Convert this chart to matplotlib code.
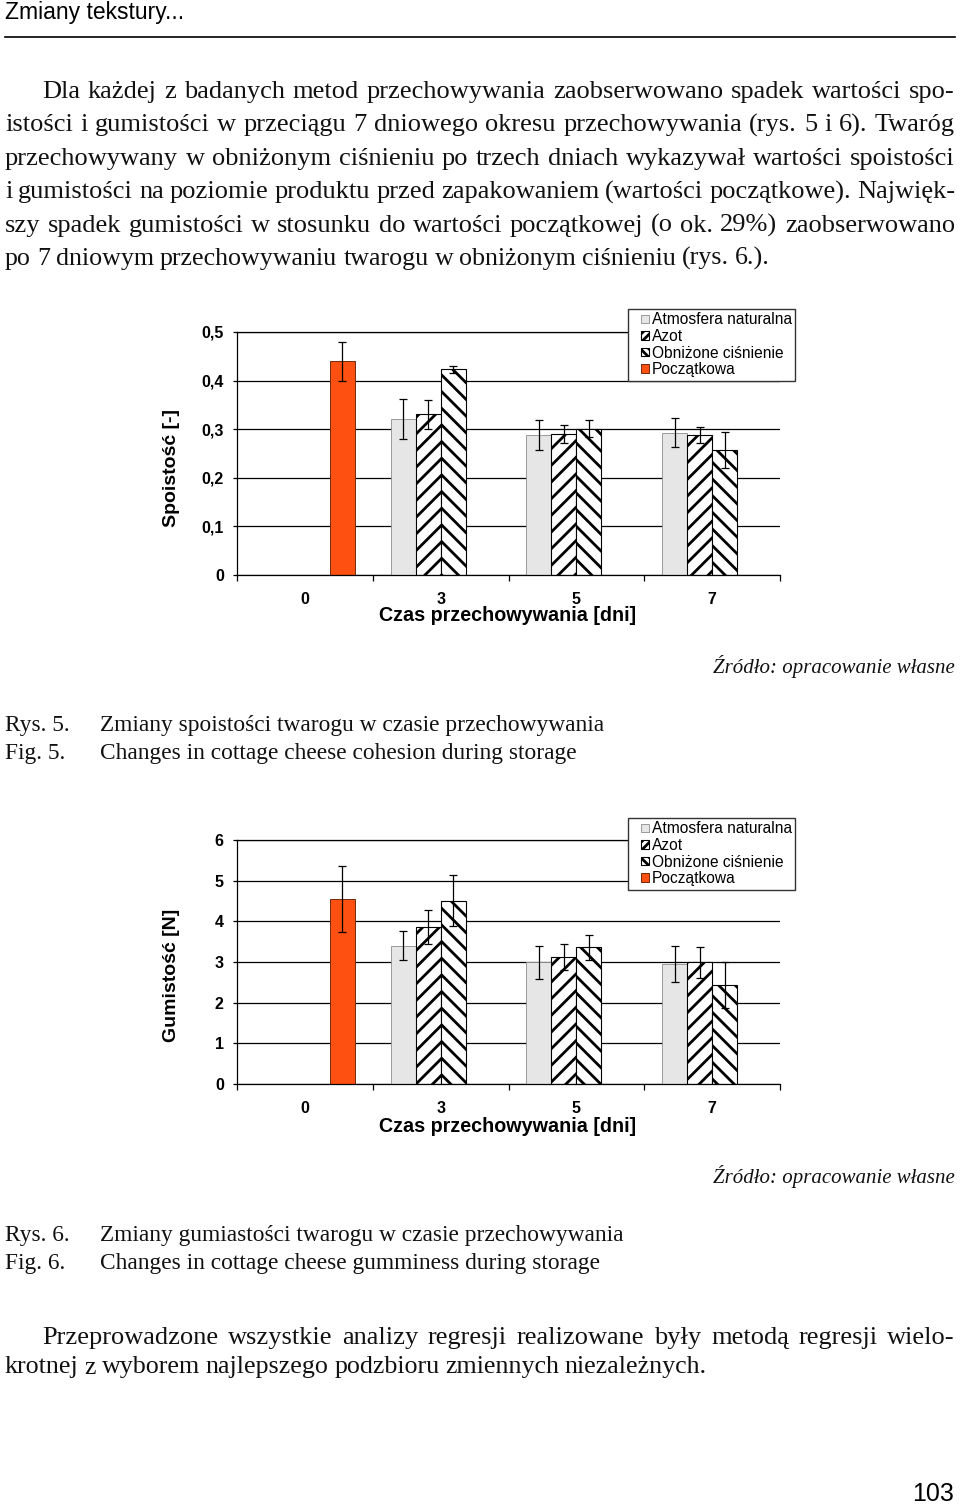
import matplotlib
matplotlib.use('Agg')
import matplotlib.pyplot as plt
from matplotlib.lines import Line2D
from matplotlib.patches import Rectangle
from matplotlib.container import BarContainer
from matplotlib.legend_handler import HandlerPatch
import numpy as np

W, H = 960, 1504

days = ['0', '3', '5', '7']
series = ['Atmosfera naturalna', 'Azot', 'Obniżone ciśnienie', 'Początkowa']

# spoistosc [-] - dni 3, 5, 7 (poczatkowa tylko dzien 0)
spo_atm = [0.321, 0.288, 0.293]
spo_atm_err = [0.041, 0.031, 0.030]
spo_azot = [0.331, 0.290, 0.288]
spo_azot_err = [0.030, 0.019, 0.017]
spo_obn = [0.423, 0.301, 0.258]
spo_obn_err = [0.008, 0.018, 0.037]
spo_pocz = [0.440]
spo_pocz_err = [0.040]

# gumistosc [N]
gum_atm = [3.40, 2.99, 2.96]
gum_atm_err = [0.36, 0.41, 0.44]
gum_azot = [3.87, 3.12, 2.99]
gum_azot_err = [0.42, 0.32, 0.39]
gum_obn = [4.51, 3.36, 2.44]
gum_obn_err = [0.63, 0.31, 0.56]
gum_pocz = [4.55]
gum_pocz_err = [0.82]

para1 = [
    "Dla każdej z badanych metod przechowywania zaobserwowano spadek wartości spo-",
    "istości i gumistości w przeciągu 7 dniowego okresu przechowywania (rys. 5 i 6). Twaróg",
    "przechowywany w obniżonym ciśnieniu po trzech dniach wykazywał wartości spoistości",
    "i gumistości na poziomie produktu przed zapakowaniem (wartości początkowe). Najwięk-",
    "szy spadek gumistości w stosunku do wartości początkowej (o ok. 29%) zaobserwowano",
    "po 7 dniowym przechowywaniu twarogu w obniżonym ciśnieniu (rys. 6.).",
]
para2 = [
    "Przeprowadzone wszystkie analizy regresji realizowane były metodą regresji wielo-",
    "krotnej z wyborem najlepszego podzbioru zmiennych niezależnych.",
]

plt.rcParams['hatch.linewidth'] = 2.0
plt.rcParams['font.family'] = ['Liberation Sans', 'DejaVu Sans']

fig = plt.figure(figsize=(W / 100, H / 100), dpi=100)
renderer = fig.canvas.get_renderer()


def fy(y):
    return 1 - y / H


def justify(line, x0, x1, yb, size=19):
    words = line.split()
    while True:
        texts = [fig.text(0, 0, wd, fontsize=size, family='Liberation Serif',
                          va='baseline', color='#111111') for wd in words]
        widths = [t.get_window_extent(renderer).width for t in texts]
        gap = (x1 - x0 - sum(widths)) / max(len(words) - 1, 1)
        if gap >= 0.2 * size * 1.389 or size < 10:
            break
        for t in texts:
            t.remove()
        size -= 0.25
    xp = x0
    for t, wdt in zip(texts, widths):
        t.set_position((xp / W, fy(yb)))
        xp += wdt + gap


# naglowek
fig.text(5 / W, fy(19), 'Zmiany tekstury...', fontsize=16.5, va='baseline')
fig.add_artist(Line2D([5 / W, 955 / W], [fy(37), fy(37)], color='black', lw=1.2))

ends1 = [955, 955, 955, 955, 955, 770]
for i, ln in enumerate(para1):
    justify(ln, 42 if i == 0 else 5, ends1[i], 98 + i * 33.4)

ends2 = [955, 707]
for i, ln in enumerate(para2):
    justify(ln, 42 if i == 0 else 5, ends2[i], 1344 + i * 29.5)

fig.text(912 / W, fy(1501), '103', fontsize=18, va='baseline')

x = np.arange(len(days))
w = 0.184
ek = dict(ecolor='black', elinewidth=0.9, capsize=2.6, capthick=0.9)


def square(legend, orig_handle, xdescent, ydescent, width, height, fontsize):
    s = 0.55 * fontsize
    return Rectangle((width - s - xdescent, (height - s) / 2 - ydescent), s, s)


def legend_style(tgt, src):
    first = next(iter(src.get_children()), None)
    if first is not None:
        tgt.update_from(first)
        if first.get_hatch():
            tgt.set_hatch(first.get_hatch() * 2)


def chart(ax, atm, atm_e, azot, azot_e, obn, obn_e, pocz, pocz_e, ticks, labels, ylab, ylab_y, top):
    xs = x[1:]
    ax.bar(xs - 1.5 * w, atm, w, yerr=atm_e, color='#e6e6e6', edgecolor='#8c8c8c',
           lw=0.6, label=series[0], error_kw=ek, zorder=2)
    ax.bar(xs - 0.5 * w, azot, w, yerr=azot_e, color='white', edgecolor='black',
           lw=0.8, hatch='//', label=series[1], error_kw=ek, zorder=2)
    ax.bar(xs + 0.5 * w, obn, w, yerr=obn_e, color='white', edgecolor='black',
           lw=0.8, hatch='\\\\', label=series[2], error_kw=ek, zorder=2)
    ax.bar(x[:1] + 1.5 * w, pocz, w, yerr=pocz_e, color='#fe5010', edgecolor='#6e2a10',
           lw=0.7, label=series[3], error_kw=ek, zorder=2)

    ax.set_xlim(-0.5, 3.5)
    ax.set_ylim(0, ticks[-1])
    ax.set_xticks(x)
    ax.set_xticklabels(days, fontsize=11.5, fontweight='bold')
    ax.set_xticks(np.arange(-0.5, 4, 1), minor=True)
    ax.tick_params(axis='x', which='major', length=0, pad=12.5)
    ax.tick_params(axis='x', which='minor', length=4, width=0.9)
    ax.set_yticks(ticks)
    ax.set_yticklabels(labels, fontsize=11.5, fontweight='bold')
    ax.tick_params(axis='y', length=3, width=0.9, pad=6.5)
    ax.yaxis.grid(True, color='black', lw=0.9)
    ax.set_axisbelow(True)
    ax.spines['right'].set_visible(False)
    for s in ['top', 'left', 'bottom']:
        ax.spines[s].set_linewidth(0.9)
        ax.spines[s].set_color('black')

    fig.text(172 / W, fy(ylab_y), ylab, rotation=90, ha='center', va='center',
             fontsize=14, fontweight='bold')
    hm = {BarContainer: HandlerPatch(patch_func=square, update_func=legend_style)}
    ax.legend(loc='upper left', bbox_to_anchor=(628 / W, fy(top)), bbox_transform=fig.transFigure,
              borderaxespad=0, fancybox=False, edgecolor='#333333', framealpha=1,
              handlelength=1.15, handleheight=0.7, handletextpad=0.15, labelspacing=0.1,
              borderpad=0.22, fontsize=11.2, handler_map=hm)


ax1 = fig.add_axes([237 / W, fy(575), 543 / W, 243 / H])
chart(ax1, spo_atm, spo_atm_err, spo_azot, spo_azot_err, spo_obn, spo_obn_err,
      spo_pocz, spo_pocz_err, [0, 0.1, 0.2, 0.3, 0.4, 0.5],
      ['0', '0,1', '0,2', '0,3', '0,4', '0,5'], 'Spoistość [-]', 468, 309)
fig.text(508 / W, fy(616), 'Czas przechowywania [dni]', ha='center', va='center',
         fontsize=14.2, fontweight='bold')

ax2 = fig.add_axes([237 / W, fy(1084), 543 / W, 244 / H])
chart(ax2, gum_atm, gum_atm_err, gum_azot, gum_azot_err, gum_obn, gum_obn_err,
      gum_pocz, gum_pocz_err, [0, 1, 2, 3, 4, 5, 6],
      ['0', '1', '2', '3', '4', '5', '6'], 'Gumistość [N]', 975, 818)
fig.text(508 / W, fy(1126), 'Czas przechowywania [dni]', ha='center', va='center',
         fontsize=14.2, fontweight='bold')

# zrodla i podpisy
for yb in [673, 1183]:
    fig.text(955 / W, fy(yb), 'Źródło: opracowanie własne', ha='right', va='baseline',
             fontsize=15, family='Liberation Serif', style='italic', color='#111111')

captions = [
    (731, 'Rys. 5.', 'Zmiany spoistości twarogu w czasie przechowywania'),
    (759, 'Fig. 5.', 'Changes in cottage cheese cohesion during storage'),
    (1241, 'Rys. 6.', 'Zmiany gumiastości twarogu w czasie przechowywania'),
    (1269, 'Fig. 6.', 'Changes in cottage cheese gumminess during storage'),
]
for yb, a, b in captions:
    fig.text(5 / W, fy(yb), a, va='baseline', fontsize=16.8, family='Liberation Serif', color='#111111')
    fig.text(100 / W, fy(yb), b, va='baseline', fontsize=16.8, family='Liberation Serif', color='#111111')

fig.savefig('out.png', dpi=100)
